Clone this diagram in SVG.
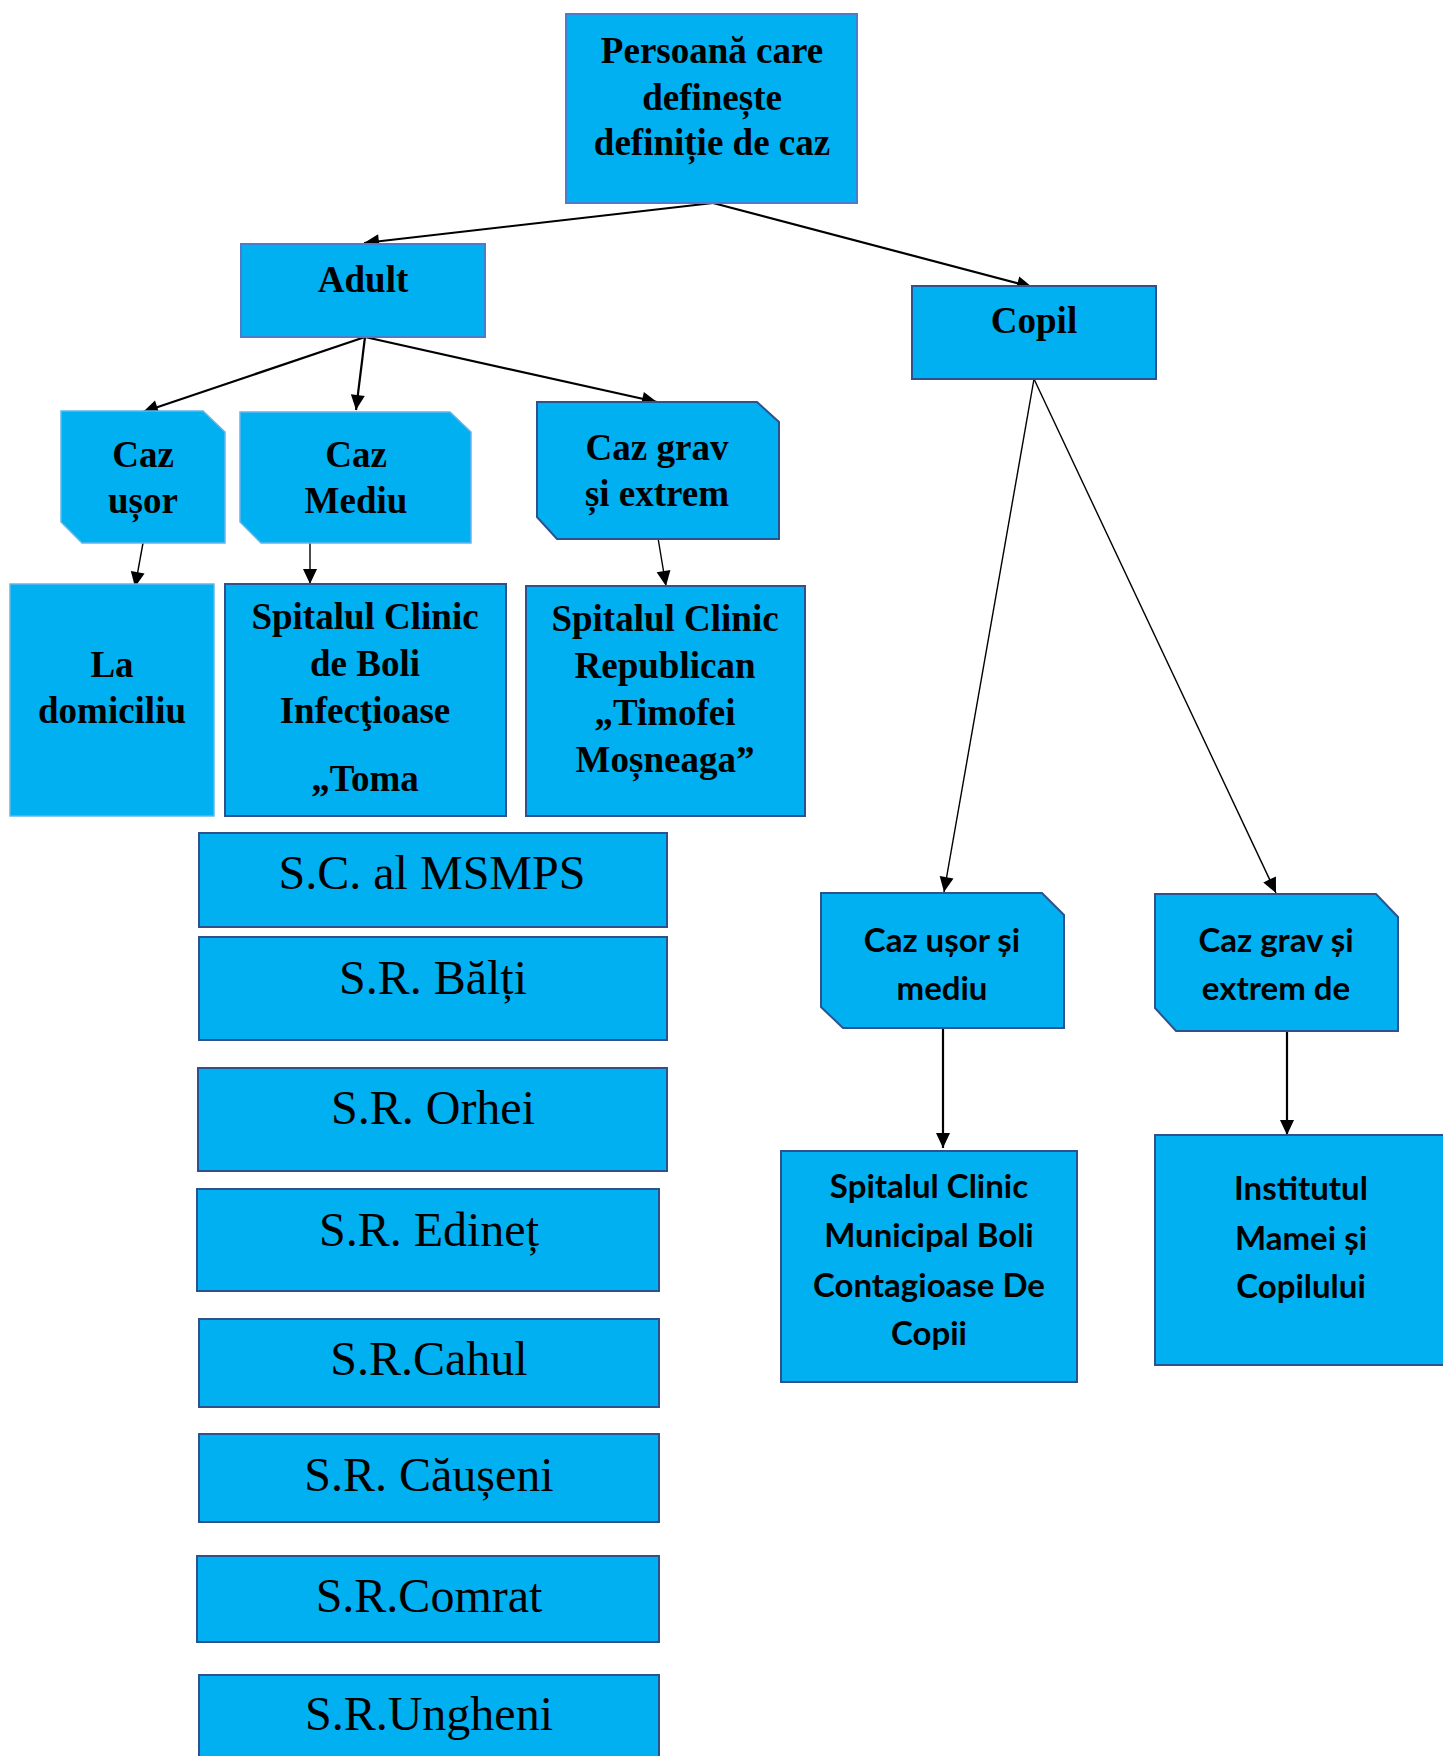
<svg xmlns="http://www.w3.org/2000/svg" width="1443" height="1756" viewBox="0 0 1443 1756">
<defs>
<style>
.n{fill:#00B0F0;stroke-width:2}
.dk{stroke:#2F528F}
.md{stroke:#4F7BCB}
.lt{stroke:#62B6EA;stroke-width:1.5}
.tb{font-family:"Liberation Serif","Times New Roman",serif;font-weight:bold;font-size:37px;fill:#000;text-anchor:middle}
.tr{font-family:"Liberation Serif","Times New Roman",serif;font-size:48px;fill:#000;text-anchor:middle}
.cb{font-family:Lato,"Open Sans",sans-serif;font-weight:bold;font-size:33px;fill:#000;text-anchor:middle}
.c{fill:none;stroke:#000;marker-end:url(#ah)}
.w2{stroke-width:2.2}
.w1{stroke-width:1.4}
</style>
<marker id="ah" markerUnits="userSpaceOnUse" markerWidth="16" markerHeight="15" refX="15" refY="7" orient="auto" overflow="visible">
<path d="M0,0 L15,7 L0,14 Z" fill="#000"/>
</marker>
</defs>
<rect width="1443" height="1756" fill="#fff"/>

<g id="connectors">
<line class="c w2" x1="713" y1="203" x2="364" y2="243"/>
<line class="c w2" x1="713" y1="203" x2="1032" y2="287"/>
<line class="c w2" x1="365" y1="337" x2="143" y2="412"/>
<line class="c w2" x1="365" y1="337" x2="356" y2="410"/>
<line class="c w2" x1="365" y1="337" x2="657" y2="402"/>
<line class="c w1" x1="143" y1="543" x2="135" y2="587"/>
<line class="c w1" x1="310" y1="538" x2="310" y2="584"/>
<line class="c w1" x1="658" y1="538" x2="666" y2="586"/>
<line class="c w1" x1="1034" y1="379" x2="944" y2="892"/>
<line class="c w1" x1="1034" y1="379" x2="1276" y2="893"/>
<line class="c w2" x1="943" y1="1028" x2="943" y2="1148"/>
<line class="c w2" x1="1287" y1="1023" x2="1287" y2="1135"/>
</g>

<g id="n-persoana">
<rect class="n md" x="566" y="14" width="291" height="189"/>
<text class="tb" x="712" y="63">Persoană care</text>
<text class="tb" x="712" y="110">definește</text>
<text class="tb" x="712" y="155">definiție de caz</text>
</g>

<g id="n-adult">
<rect class="n md" x="241" y="244" width="244" height="93"/>
<text class="tb" x="363" y="292">Adult</text>
</g>

<g id="n-copil">
<rect class="n dk" x="912" y="286" width="244" height="93"/>
<text class="tb" x="1034" y="333">Copil</text>
</g>

<g id="n-caz-usor">
<polygon class="n lt" points="61,411 203,411 225,432 225,543 82,543 61,522"/>
<text class="tb" x="143" y="467">Caz</text>
<text class="tb" x="143" y="513">ușor</text>
</g>

<g id="n-caz-mediu">
<polygon class="n lt" points="240,412 450,412 471,432 471,543 261,543 240,522"/>
<text class="tb" x="356" y="467">Caz</text>
<text class="tb" x="356" y="513">Mediu</text>
</g>

<g id="n-caz-grav">
<polygon class="n dk" points="537,402 757,402 779,422 779,539 557,539 537,517"/>
<text class="tb" x="657" y="460">Caz grav</text>
<text class="tb" x="657" y="506">și extrem</text>
</g>

<g id="n-domiciliu">
<rect class="n lt" x="10" y="584" width="204" height="232"/>
<text class="tb" x="112" y="677">La</text>
<text class="tb" x="112" y="723">domiciliu</text>
</g>

<g id="n-toma">
<rect class="n dk" x="225" y="584" width="281" height="232"/>
<text class="tb" x="365" y="629">Spitalul Clinic</text>
<text class="tb" x="365" y="676">de Boli</text>
<text class="tb" x="365" y="723">Infecţioase</text>
<text class="tb" x="365" y="791">„Toma</text>
</g>

<g id="n-republican">
<rect class="n dk" x="526" y="586" width="279" height="230"/>
<text class="tb" x="665" y="631">Spitalul Clinic</text>
<text class="tb" x="665" y="678">Republican</text>
<text class="tb" x="665" y="725">„Timofei</text>
<text class="tb" x="665" y="772">Moșneaga”</text>
</g>

<g id="n-msmps">
<rect class="n dk" x="199" y="833" width="468" height="94"/>
<text class="tr" x="432" y="889">S.C. al MSMPS</text>
</g>
<g id="n-balti">
<rect class="n dk" x="199" y="937" width="468" height="103"/>
<text class="tr" x="433" y="994">S.R. Bălți</text>
</g>
<g id="n-orhei">
<rect class="n dk" x="198" y="1068" width="469" height="103"/>
<text class="tr" x="433" y="1124">S.R. Orhei</text>
</g>
<g id="n-edinet">
<rect class="n dk" x="197" y="1189" width="462" height="102"/>
<text class="tr" x="429" y="1246">S.R. Edineț</text>
</g>
<g id="n-cahul">
<rect class="n dk" x="199" y="1319" width="460" height="88"/>
<text class="tr" x="429" y="1375">S.R.Cahul</text>
</g>
<g id="n-causeni">
<rect class="n dk" x="199" y="1434" width="460" height="88"/>
<text class="tr" x="429" y="1491">S.R. Căușeni</text>
</g>
<g id="n-comrat">
<rect class="n dk" x="197" y="1556" width="462" height="86"/>
<text class="tr" x="429" y="1612">S.R.Comrat</text>
</g>
<g id="n-ungheni">
<rect class="n dk" x="199" y="1675" width="460" height="95"/>
<text class="tr" x="429" y="1730">S.R.Ungheni</text>
</g>

<g id="n-copil-usor">
<polygon class="n dk" points="821,893 1042,893 1064,915 1064,1028 843,1028 821,1007"/>
<text class="cb" x="942" y="952">Caz ușor și</text>
<text class="cb" x="942" y="1000">mediu</text>
</g>

<g id="n-copil-grav">
<polygon class="n dk" points="1155,894 1376,894 1398,917 1398,1031 1176,1031 1155,1008"/>
<text class="cb" x="1276" y="952">Caz grav și</text>
<text class="cb" x="1276" y="1000">extrem de</text>
</g>

<g id="n-municipal">
<rect class="n dk" x="781" y="1151" width="296" height="231"/>
<text class="cb" x="929" y="1198">Spitalul Clinic</text>
<text class="cb" x="929" y="1247">Municipal Boli</text>
<text class="cb" x="929" y="1297">Contagioase De</text>
<text class="cb" x="929" y="1345">Copii</text>
</g>

<g id="n-institutul">
<rect class="n dk" x="1155" y="1135" width="295" height="230"/>
<text class="cb" x="1301" y="1200">Institutul</text>
<text class="cb" x="1301" y="1250">Mamei și</text>
<text class="cb" x="1301" y="1298">Copilului</text>
</g>
</svg>
